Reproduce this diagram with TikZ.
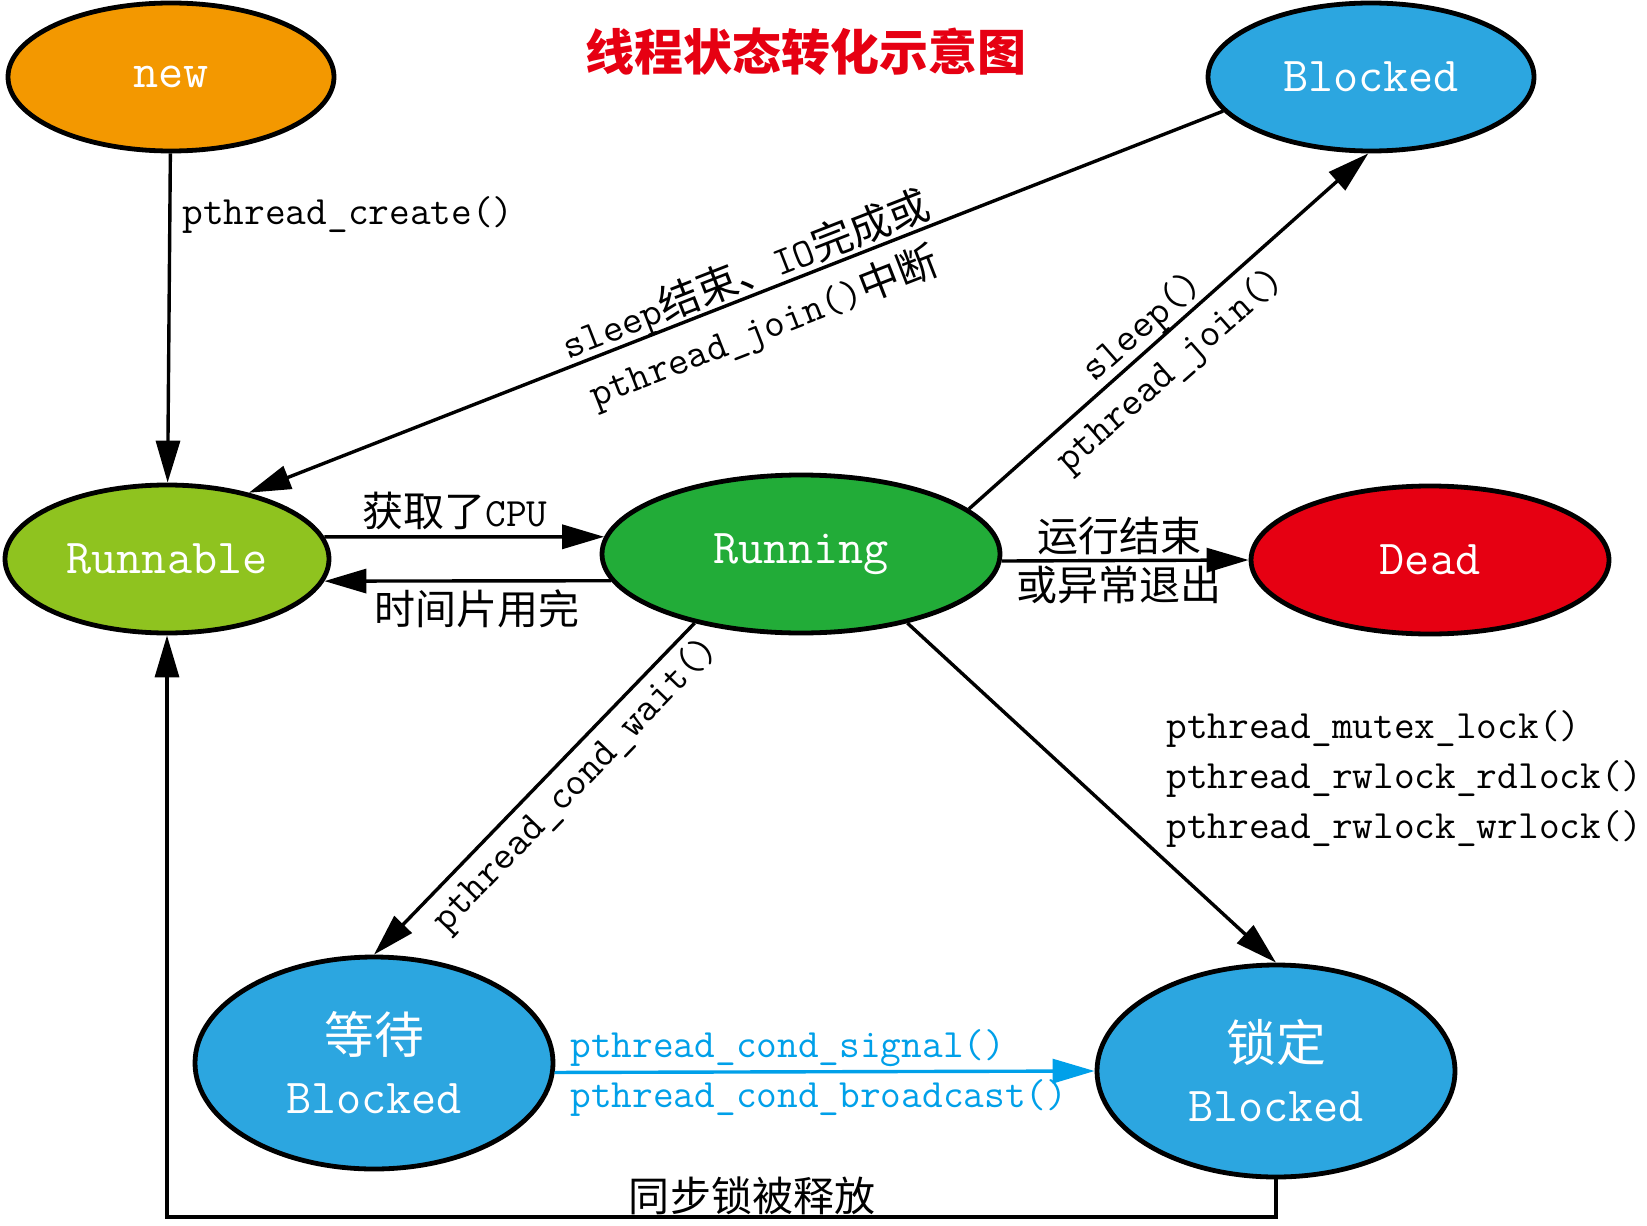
\documentclass[tikz,border=0pt]{standalone}
\usepackage{fontspec}
\newfontfamily\cjk[Scale=1.02]{Noto Sans CJK SC}
\usetikzlibrary{arrows.meta,shapes.geometric}
\definecolor{cnew}{HTML}{F39800}
\definecolor{cblue}{HTML}{2CA6E0}
\definecolor{crunnable}{HTML}{8FC31F}
\definecolor{crunning}{HTML}{22AC38}
\definecolor{cdead}{HTML}{E60012}
\definecolor{csig}{HTML}{00A0E9}
\newcommand{\nodefont}{\ttfamily\fontsize{24.4pt}{30pt}\selectfont}
\newcommand{\edgefont}{\ttfamily\fontsize{20.1pt}{25pt}\selectfont}
\begin{document}
\begin{tikzpicture}[x=0.5pt,y=-0.5pt,
  state/.style={ellipse,draw=black,line width=2.4pt,text=white,font=\nodefont,inner sep=0pt,align=center},
  conn/.style={line width=1.7pt,-{Triangle[length=21pt,width=12pt]}},
  lbl/.style={font=\edgefont,inner sep=0pt}]
\useasboundingbox[fill=white] (0,0) rectangle (1647,1225);

\node[font={\cjk\fontsize{24pt}{28pt}\selectfont\bfseries},text=cdead] (title) at (806,52) {线程状态转化示意图};

\node[state,fill=cnew,minimum width=163pt,minimum height=74pt] (new) at (171,77) {new};
\node[state,fill=cblue,minimum width=163pt,minimum height=74pt] (blockedtop) at (1371,77) {Blocked};
\node[state,fill=crunnable,minimum width=162pt,minimum height=74pt] (runnable) at (167,559) {Runnable};
\node[state,fill=crunning,minimum width=199pt,minimum height=79pt] (running) at (801,554) {Running};
\node[state,fill=cdead,minimum width=179pt,minimum height=74pt] (dead) at (1430,560) {Dead};
\node[state,fill=cblue,minimum width=179pt,minimum height=106pt] (wait) at (374,1063) {{\cjk 等待}\\Blocked};
\node[state,fill=cblue,minimum width=179pt,minimum height=106pt] (lock) at (1276,1071) {{\cjk 锁定}\\Blocked};

% new -> runnable
\draw[conn] (new) -- (runnable);
\node[lbl,anchor=west] (lcreate) at (182,215) {pthread\_create()};

% blocked -> runnable
\draw[conn] (blockedtop.193) -- (runnable.39);
\node[lbl,rotate=21.3] (lwake1) at (746,276) {sleep{\cjk 结束、}IO{\cjk 完成或}};
\node[lbl,rotate=21.3] (lwake2) at (764,328) {pthread\_join(){\cjk 中断}};

% running -> blocked
\draw[conn] (running.15) -- (blockedtop.268);
\node[lbl,rotate=41.3] (lsleep1) at (1143,328) {sleep()};
\node[lbl,rotate=41.3] (lsleep2) at (1171,371) {pthread\_join()};

% runnable <-> running
\draw[conn] (runnable.8) -- (running.175);
\node[lbl] (lcpu) at (455,511) {{\cjk 获取了}CPU};
\draw[conn] (running.188) -- (runnable.352);
\node[lbl] (lslice) at (477,609) {\cjk 时间片用完};

% running -> dead
\draw[conn] (running.358) -- (dead.west);
\node[lbl] (ldead1) at (1119,536) {\cjk 运行结束};
\node[lbl] (ldead2) at (1119,585) {\cjk 或异常退出};

% running -> wait
\draw[conn] (running.213) -- (wait.north);
\node[lbl,rotate=46] (lwait) at (576,785) {pthread\_cond\_wait()};

% running -> lock
\draw[conn] (running.327) -- (lock.north);
\node[lbl,anchor=west,align=left] (llock) at (1166,779) {pthread\_mutex\_lock()\\pthread\_rwlock\_rdlock()\\pthread\_rwlock\_wrlock()};

% wait -> lock
\draw[conn,draw=csig] (wait.357) -- (lock.west);
\node[lbl,text=csig,anchor=west] (lsig) at (570,1048) {pthread\_cond\_signal()};
\node[lbl,text=csig,anchor=west] (lbc) at (570,1098) {pthread\_cond\_broadcast()};

% lock -> runnable
\coordinate (c1) at (1276,1217);
\coordinate (c2) at (167,1217);
\draw[conn] (lock.south) -- (lock.south |- c1) -- (c2) -- (runnable.south);
\node[lbl] (lrel) at (752,1196) {\cjk 同步锁被释放};
\end{tikzpicture}
\end{document}
